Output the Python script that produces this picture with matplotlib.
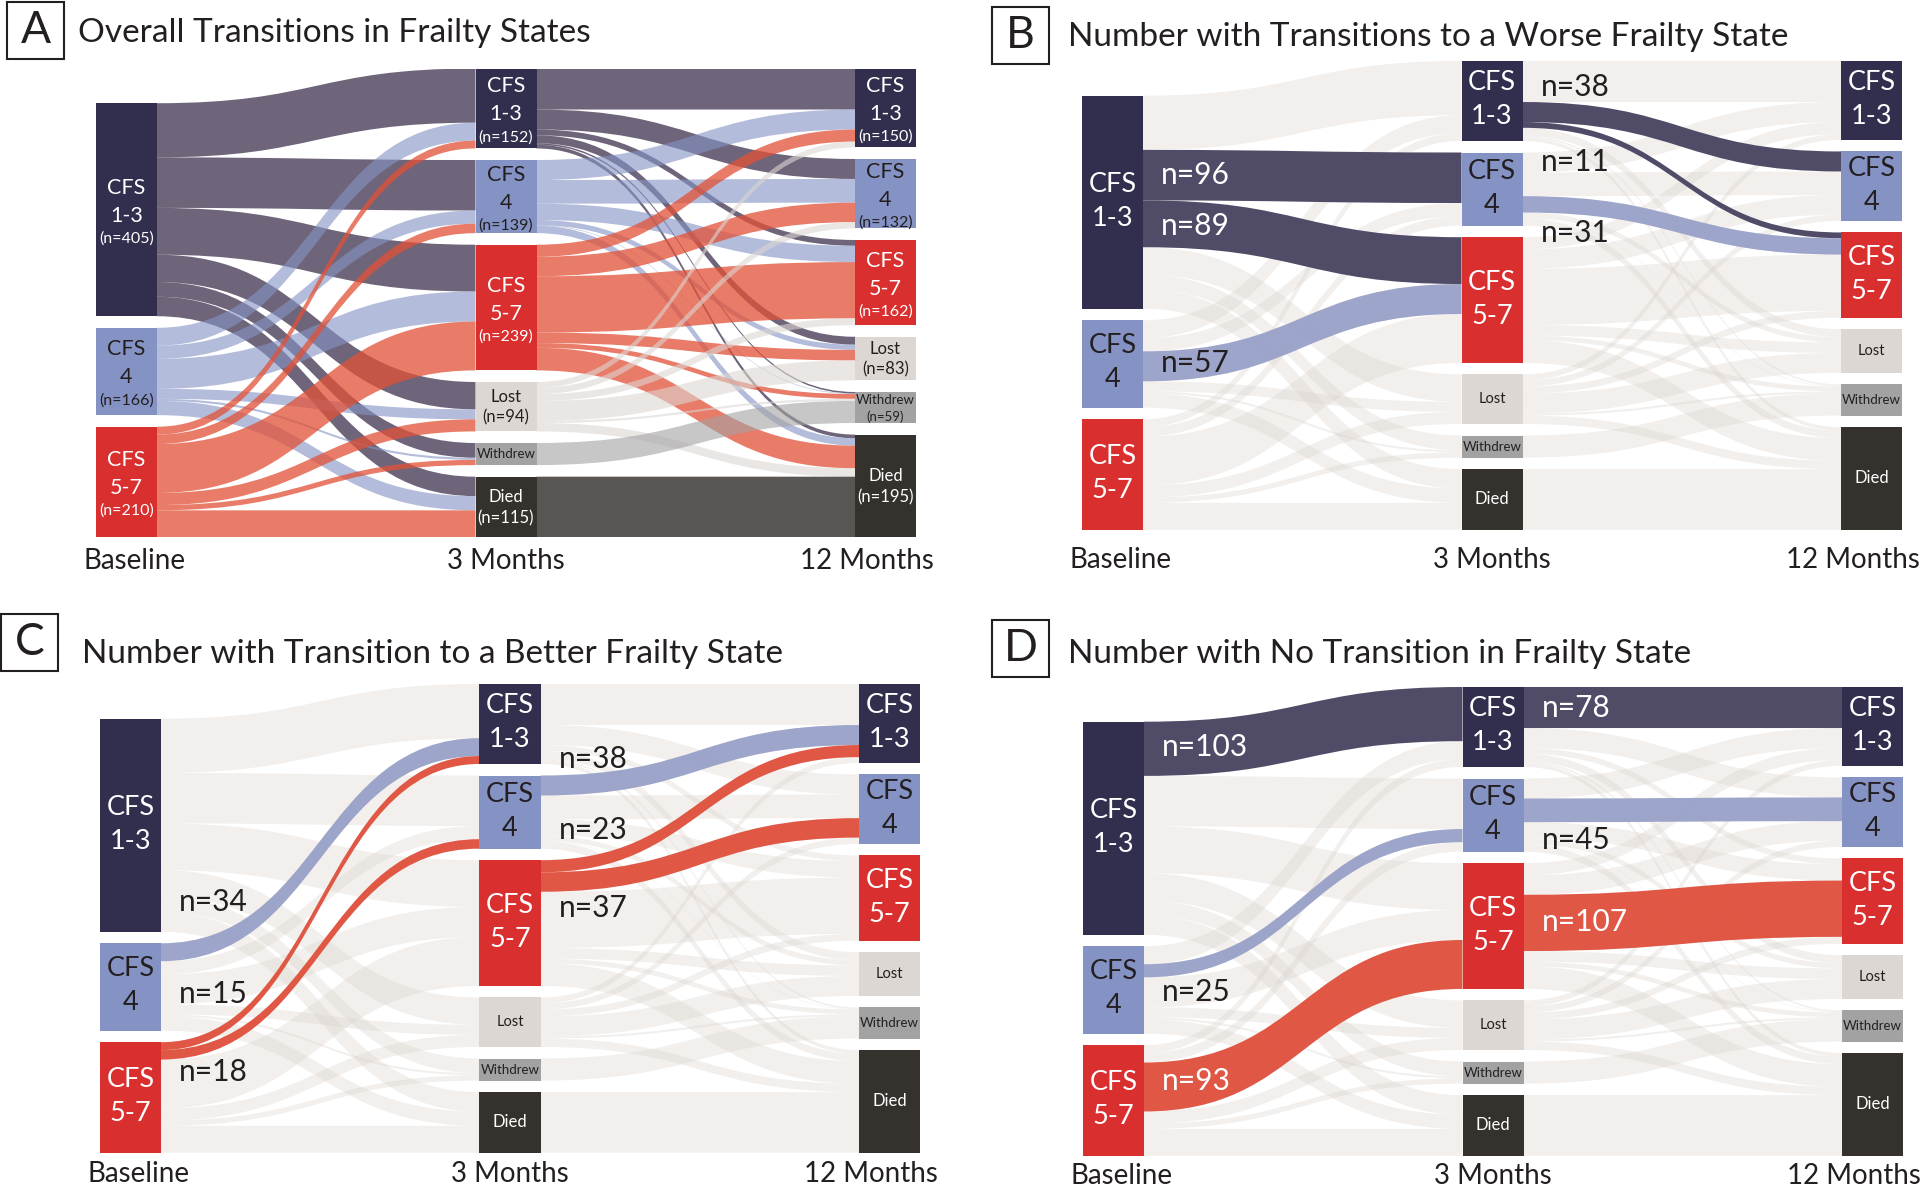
import matplotlib
matplotlib.use('Agg')
import matplotlib.pyplot as plt
from matplotlib.path import Path
from matplotlib.patches import PathPatch, Rectangle

plt.rcParams['font.family'] = ['Lato', 'DejaVu Sans']

# ---- data ----
stages = ['Baseline', '3 Months', '12 Months']
states = ['CFS 1-3', 'CFS 4', 'CFS 5-7', 'Lost', 'Withdrew', 'Died']
state_lines = [['CFS', '1-3'], ['CFS', '4'], ['CFS', '5-7'], ['Lost'], ['Withdrew'], ['Died']]

# baseline -> 3 months (rows: baseline state, cols: 3-month state)
flows_base_3m = [
    [103, 96, 89, 52, 28, 37],
    [34, 25, 57, 19, 4, 27],
    [15, 18, 93, 23, 10, 51],
]
# 3 months -> 12 months
flows_3m_12m = [
    [78, 38, 11, 15, 3, 7],
    [38, 45, 31, 10, 1, 14],
    [23, 37, 107, 20, 9, 43],
    [11, 12, 13, 38, 4, 16],
    [0, 0, 0, 0, 42, 0],
    [0, 0, 0, 0, 0, 115],
]

panel_letters = ['A', 'B', 'C', 'D']
panel_titles = ['Overall Transitions in Frailty States',
                'Number with Transitions to a Worse Frailty State',
                'Number with Transition to a Better Frailty State',
                'Number with No Transition in Frailty State']
worse = [(0, 1), (0, 2), (1, 2)]
better = [(1, 0), (2, 0), (2, 1)]
same = [(0, 0), (1, 1), (2, 2)]

# ---- style / layout ----
DARK = '#231f20'
node_colors = ['#312e4e', '#8492c4', '#d92f2f', '#ddd7d3', '#a2a2a2', '#35312c']
node_text = ['white', DARK, 'white', DARK, DARK, 'white']
flow_full = [('#372a47', .72), ('#8593c4', .62), ('#e25036', .75),
             ('#dcd6d2', .6), ('#a3a3a3', .6), ('#36312d', .82)]
flow_hi = ['#4b4764', '#9aa3c9', '#e0533f']
flow_bg = ('#d9d1cb', .33)

FW, FH = 1920, 1193
STEP = 379.5      # px between columns
NODE_W = 61       # px
PXN = 0.526       # px per patient
GAP = 22          # patients
w = NODE_W / STEP

origins = [(96, 68.5), (1082, 61), (100, 684), (1083, 687)]
boxes = [(7, 2), (992, 7), (1, 614), (992, 620)]
title_pos = [(78, 41.5), (1068, 46), (82, 662.7), (1068, 662.7)]
stage_dx = [8, 0, -19]
stage_dy = [24, 30, 21, 20]

# label specs: (step, from, to, dy px, colour)
labels_b = [(0, 0, 1, 0, 'white'), (0, 0, 2, 2, 'white'), (0, 1, 2, -3, DARK),
            (1, 0, 1, -25, DARK), (1, 0, 2, 37, DARK), (1, 1, 2, 29, DARK)]
labels_c = [(0, 1, 0, -50, DARK), (0, 2, 0, -52, DARK), (0, 2, 1, 17, DARK),
            (1, 1, 0, -27, DARK), (1, 2, 0, -36, DARK), (1, 2, 1, 26, DARK)]
labels_d = [(0, 0, 0, -2, 'white'), (0, 1, 1, 21, DARK), (0, 2, 2, -6, 'white'),
            (1, 0, 0, 0, 'white'), (1, 1, 1, 30, DARK), (1, 2, 2, -1, 'white')]


def ribbon(ax, x1, x2, s0, s1, t0, t1, **kw):
    xm = (x1 + x2) / 2
    verts = [(x1, s0), (xm, s0), (xm, t0), (x2, t0), (x2, t1),
             (xm, t1), (xm, s1), (x1, s1), (x1, s0)]
    codes = [Path.MOVETO, Path.CURVE4, Path.CURVE4, Path.CURVE4, Path.LINETO,
             Path.CURVE4, Path.CURVE4, Path.CURVE4, Path.CLOSEPOLY]
    ax.add_patch(PathPatch(Path(verts, codes), lw=0, **kw))


mats = [flows_base_3m, flows_3m_12m]
col_counts = [[sum(r) for r in flows_base_3m],
              [sum(r[j] for r in flows_base_3m) for j in range(6)],
              [sum(r[j] for r in flows_3m_12m) for j in range(6)]]
total = sum(col_counts[0])
H = total + 5 * GAP

# node tops per column (bottom aligned)
tops = []
for counts in col_counts:
    y = H - (sum(counts) + (len(counts) - 1) * GAP)
    t = []
    for c in counts:
        t.append(y)
        y += c + GAP
    tops.append(t)

# flow geometry: step -> (i, j) -> (s0, s1, t0, t1)
geo = []
for k, m in enumerate(mats):
    out_off = list(tops[k])
    in_off = list(tops[k + 1])
    g = {}
    for i in range(len(m)):
        for j in range(6):
            v = m[i][j]
            if v == 0:
                continue
            g[(i, j)] = (out_off[i], out_off[i] + v, None, None)
            out_off[i] += v
    for j in range(6):
        for i in range(len(m)):
            if (i, j) in g:
                v = m[i][j]
                s0, s1, _, _ = g[(i, j)]
                g[(i, j)] = (s0, s1, in_off[j], in_off[j] + v)
                in_off[j] += v
    geo.append(g)

fig = plt.figure(figsize=(FW / 100, FH / 100), dpi=100)

highlights = [None, worse, better, same]
label_sets = [None, labels_b, labels_c, labels_d]

for p in range(4):
    x0, y0 = origins[p]
    wpx = 2 * STEP + NODE_W
    hpx = H * PXN
    ax = fig.add_axes([x0 / FW, 1 - (y0 + hpx) / FH, wpx / FW, hpx / FH])
    ax.set_xlim(0, 2 + w)
    ax.set_ylim(H, 0)
    ax.axis('off')
    hi = highlights[p]

    # flows
    for k in range(2):
        for (i, j), (s0, s1, t0, t1) in geo[k].items():
            if hi is None:
                c, a = flow_full[i]
            else:
                c, a = flow_bg
            ribbon(ax, k + w, k + 1, s0, s1, t0, t1, facecolor=c, alpha=a, zorder=1)
        if hi is not None:
            for (i, j) in hi:
                s0, s1, t0, t1 = geo[k][(i, j)]
                ribbon(ax, k + w, k + 1, s0, s1, t0, t1,
                       facecolor=flow_hi[i], alpha=0.97, zorder=2)

    # nodes
    for c in range(3):
        for s, (top, n) in enumerate(zip(tops[c], col_counts[c])):
            ax.add_patch(Rectangle((c, top), w, n, facecolor=node_colors[s],
                                   lw=0, zorder=3))
            xc = c + w / 2
            yc = top + n / 2
            lines = state_lines[s]
            if s < 3:
                if hi is None:
                    txt = lines + ['(n=%d)' % n]
                    sizes = [15.5, 15.5, 11.5]
                    offs = [-22, 6, 29]
                else:
                    txt = lines
                    sizes = [19.5, 19.5]
                    offs = [-18, 16]
            else:
                if hi is None:
                    if n * PXN > 26:
                        txt = lines + ['(n=%d)' % n]
                        if s == 4:
                            sizes, offs = [9.5, 9.5], [-8, 9]
                        else:
                            sizes, offs = [12, 12], [-10, 11]
                    else:
                        txt, sizes, offs = lines, [9.5], [0]
                else:
                    txt = lines
                    sizes = [{3: 10.5, 4: 9.5, 5: 12}[s]]
                    offs = [0]
            for t_, sz, o in zip(txt, sizes, offs):
                ax.text(xc, yc + o / PXN, t_, color=node_text[s], fontsize=sz,
                        ha='center', va='center', zorder=4)

    # stage labels
    for c, st in enumerate(stages):
        ax.text(c + w / 2 + stage_dx[c] / STEP, H + stage_dy[p] / PXN, st,
                fontsize=20, ha='center', va='center', color=DARK, clip_on=False)

    # n labels
    if label_sets[p] is not None:
        for (k, i, j, dy, col) in label_sets[p]:
            s0, s1, _, _ = geo[k][(i, j)]
            v = mats[k][i][j]
            ax.text(k + w + 18 / STEP, (s0 + s1) / 2 + dy / PXN, 'n=%d' % v,
                    fontsize=21.5, color=col, ha='left', va='center', zorder=5,
                    clip_on=False)

    # panel letter box and title
    bx, by = boxes[p]
    fig.patches.append(Rectangle((bx / FW, 1 - (by + 57) / FH), 57 / FW, 57 / FH,
                                 transform=fig.transFigure, fill=False,
                                 edgecolor=DARK, lw=1.5))
    fig.text((bx + 28.5) / FW, 1 - (by + 28.5) / FH, panel_letters[p],
             fontsize=32, ha='center', va='center', color=DARK)
    tx, ty = title_pos[p]
    fig.text(tx / FW, 1 - ty / FH, panel_titles[p], fontsize=24,
             ha='left', va='baseline', color=DARK)

fig.savefig('out.png', dpi=100, facecolor='white')
